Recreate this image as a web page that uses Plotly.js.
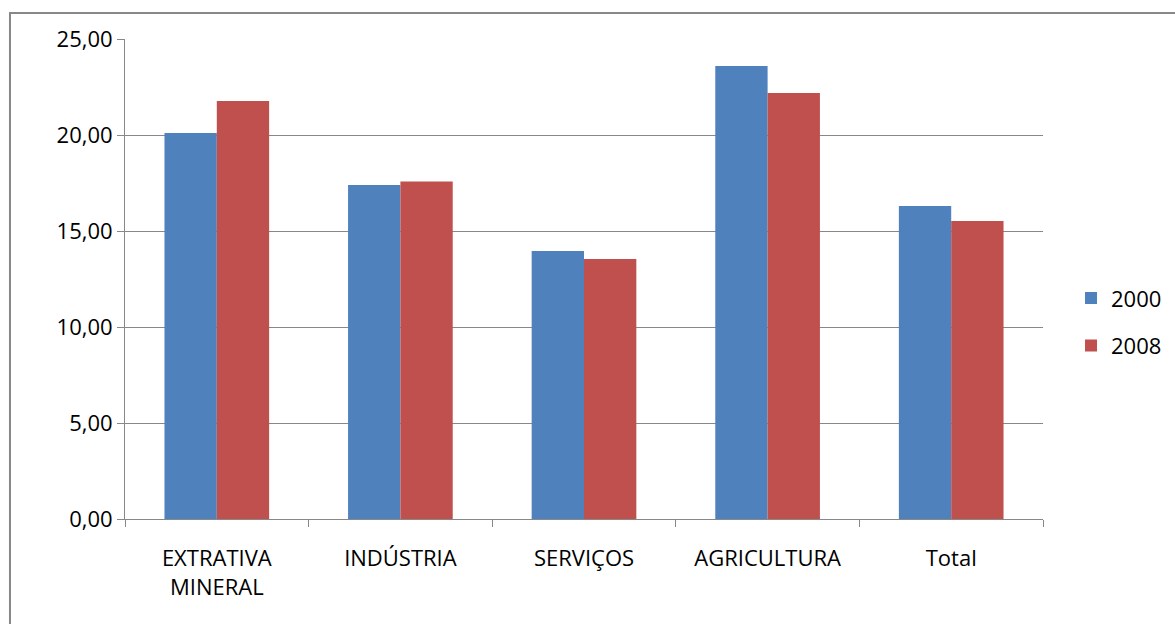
<!DOCTYPE html>
<html>
<head>
<meta charset="utf-8">
<script src="https://cdn.plot.ly/plotly-3.0.1.min.js"></script>
<style>html,body{margin:0;padding:0;background:#fff;}#chart{width:1175px;height:624px;}</style>
</head>
<body>
<div id="chart"></div>
<script>
const categories = ["EXTRATIVA<br>MINERAL", "INDÚSTRIA", "SERVIÇOS", "AGRICULTURA", "Total"];
const series2000 = [20.10, 17.40, 13.96, 23.59, 16.30];
const series2008 = [21.77, 17.58, 13.54, 22.19, 15.52];
const seriesNames = ["2000", "2008"];
const tickVals = [0, 5, 10, 15, 20, 25];
const tickText = ["0,00", "5,00", "10,00", "15,00", "20,00", "25,00"];

const font = {family: "Open Sans, Noto Sans, sans-serif", size: 22, color: "#000"};

const traces = [
  {type: "bar", name: seriesNames[0], x: categories, y: series2000, marker: {color: "#4F81BD"}, legendgroup: "a"},
  {type: "bar", name: seriesNames[1], x: categories, y: series2008, marker: {color: "#C0504D"}, legendgroup: "b"}
];

const layout = {
  width: 1175, height: 624,
  margin: {l: 125, r: 132, t: 39, b: 105, autoexpand: false},
  paper_bgcolor: "#fff", plot_bgcolor: "#fff",
  font: font,
  barmode: "group", bargap: 0.43, bargroupgap: 0,
  showlegend: true,
  legend: {xref: "container", x: 0.9115, y: 0.41, xanchor: "left", yanchor: "middle", font: {family: font.family, size: 22, color: "#000"}, tracegroupgap: 16, bgcolor: "rgba(0,0,0,0)"},
  xaxis: {
    type: "category", showgrid: false, showline: true, linecolor: "#888", linewidth: 1,
    ticks: "outside", tickson: "boundaries", ticklen: 7, tickcolor: "#888", tickwidth: 1,
    tickfont: font, ticklabelstandoff: 20, fixedrange: true
  },
  yaxis: {
    range: [0, 25], tickvals: tickVals, ticktext: tickText,
    showgrid: true, gridcolor: "#888", gridwidth: 1,
    showline: true, linecolor: "#888", linewidth: 1,
    ticks: "outside", ticklen: 7, tickcolor: "#888",
    zeroline: false, tickfont: font, fixedrange: true
  },
  shapes: [
    {type: "rect", xref: "paper", yref: "paper", x0: -0.1253, x1: 1.3, y0: -0.4, y1: 1.0542, line: {color: "#888", width: 2}, fillcolor: "rgba(0,0,0,0)", layer: "below"}
  ]
};

Plotly.newPlot("chart", traces, layout, {displayModeBar: false, staticPlot: true});
</script>
</body>
</html>
